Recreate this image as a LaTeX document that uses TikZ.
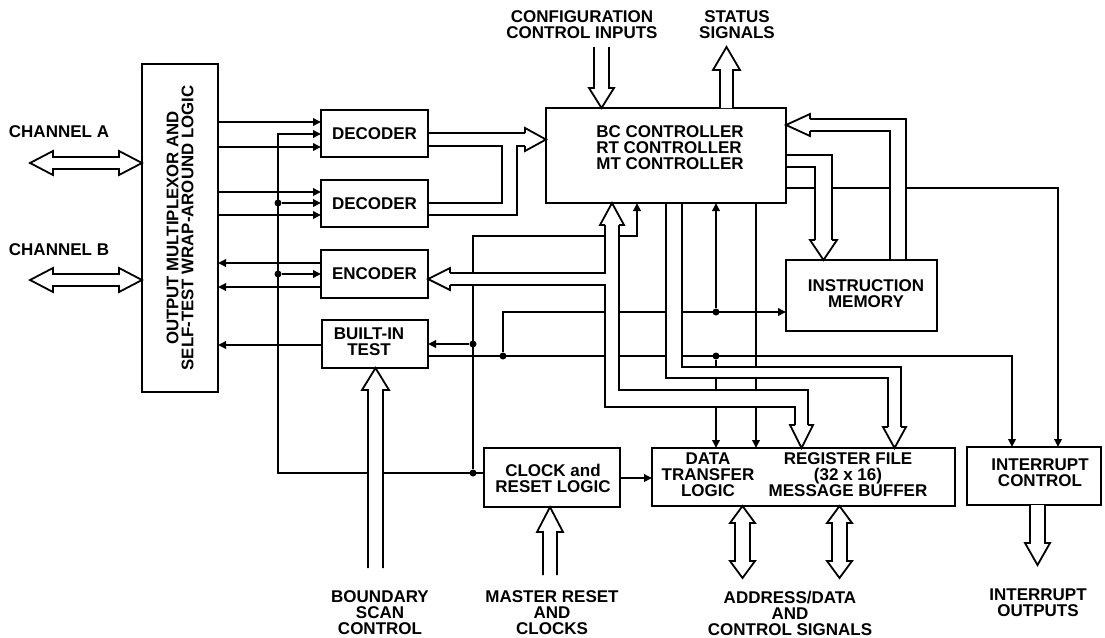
\documentclass[tikz,border=0pt]{standalone}
\usepackage{fontspec}
\setmainfont{Liberation Sans}
\usetikzlibrary{arrows.meta}
\begin{document}
\begin{tikzpicture}[x=1pt,y=-1pt, line width=1.8pt,
  box/.style={draw, line width=1.8pt, inner sep=0pt, outer sep=0pt, font=\fontsize{17}{16}\selectfont\bfseries, align=center},
  lbl/.style={font=\fontsize{17}{16}\selectfont\bfseries, align=center, inner sep=0pt},
  arr/.style={-{Triangle[length=8pt,width=7.5pt]}},
  dot/.style={circle, fill=black, inner sep=0pt, minimum size=7pt},
  hollow/.style={draw, fill=white, line width=1.8pt, line join=miter}]

\useasboundingbox (0,0) rectangle (1105,637);

% ---------- boxes ----------
\node[box, minimum width=76pt, minimum height=328pt] (mux) at (180,228) {};
\node[lbl, rotate=90, font=\fontsize{16.8}{15}\selectfont\bfseries] (muxt) at (180,228) {OUTPUT MULTIPLEXOR AND\\SELF-TEST WRAP-AROUND LOGIC};
\node[box, minimum width=107pt, minimum height=47pt] (dec1) at (374.5,133.5) {DECODER};
\node[box, minimum width=107pt, minimum height=47pt] (dec2) at (374.5,203.5) {DECODER};
\node[box, minimum width=107pt, minimum height=48pt] (enc) at (374.5,274) {ENCODER};
\node[box, minimum width=106pt, minimum height=48pt] (bit) at (375,344) {};
\node[lbl] (bitt) at (369,342) {BUILT-IN\\TEST};
\node[box, minimum width=240pt, minimum height=95pt] (ctrl) at (666,155.5) {};
\node[lbl, align=left] (ctrlt) at (670,147.5) {BC CONTROLLER\\RT CONTROLLER\\MT CONTROLLER};
\node[box, minimum width=151pt, minimum height=71pt] (imem) at (861.5,295.5) {};
\node[lbl] (imemt) at (866,294) {INSTRUCTION\\MEMORY};
\node[box, minimum width=136pt, minimum height=59pt] (clk) at (552,477.5) {};
\node[lbl] (clkt) at (553,478) {CLOCK and\\RESET LOGIC};
\node[box, minimum width=303pt, minimum height=58pt] (dtl) at (803.5,477) {};
\node[lbl] (dtlt) at (708,475) {DATA\\TRANSFER\\LOGIC};
\node[lbl] (regt) at (848,475) {REGISTER FILE\\(32 x 16)\\MESSAGE BUFFER};
\node[box, minimum width=134pt, minimum height=58pt] (intc) at (1034,476) {};
\node[lbl] (intct) at (1040,473) {INTERRUPT\\CONTROL};

% ---------- labels ----------
\node[lbl] (cha) at (59,132) {CHANNEL A};
\node[lbl] (chb) at (59,250) {CHANNEL B};
\node[lbl] (cfg) at (582,25) {CONFIGURATION\\CONTROL INPUTS};
\node[lbl] (sts) at (737,25) {STATUS\\SIGNALS};
\node[lbl] (bsc) at (380,613) {BOUNDARY\\SCAN\\CONTROL};
\node[lbl] (mrc) at (552,613) {MASTER RESET\\AND\\CLOCKS};
\node[lbl] (adr) at (790,613) {ADDRESS/DATA\\AND\\CONTROL SIGNALS};
\node[lbl] (iout) at (1038,603) {INTERRUPT\\OUTPUTS};

% ---------- thin signal lines ----------
\draw[arr] (mux.east |- 0,122) -- (dec1.west |- 0,122);
\draw[arr] (mux.east |- 0,147) -- (dec1.west |- 0,147);
\draw[arr] (mux.east |- 0,192) -- (dec2.west |- 0,192);
\draw[arr] (mux.east |- 0,215) -- (dec2.west |- 0,215);
\draw[arr] (enc.west |- 0,263) -- (mux.east |- 0,263);
\draw[arr] (enc.west |- 0,287) -- (mux.east |- 0,287);
\draw[arr] (bit.west |- 0,345) -- (mux.east |- 0,345);

\draw[arr] (clk.west |- 0,473) -- (278,473) -- (278,134) -- (dec1.west |- 0,134);
\node[dot] (d1) at (278,203) {};
\draw[arr] (d1) -- (dec2.west |- 0,203);
\node[dot] (d2) at (278,274) {};
\draw[arr] (d2) -- (enc.west |- 0,274);
\node[dot] (d3) at (473,473) {};
\draw[arr] (d3) -- (473,236) -- (637,236) -- (ctrl.south -| 637,0);
\node[dot] (d4) at (473,344) {};
\draw[arr] (d4) -- (bit.east |- 0,344);

\draw[arr] (bit.east |- 0,356) -- (1012,356) -- (intc.north -| 1012,0);
\node[dot] (d5) at (503,356) {};
\draw[arr] (d5) -- (503,312) -- (imem.west |- 0,312);
\node[dot] (d6) at (716,312) {};
\draw[arr] (d6) -- (ctrl.south -| 716,0);
\node[dot] (d7) at (716,356) {};
\draw[arr] (d7) -- (dtl.north -| 716,0);
\draw[arr] (ctrl.south -| 756,0) -- (dtl.north -| 756,0);
\draw[arr] (ctrl.east |- 0,188) -- (1058,188) -- (intc.north -| 1058,0);
\draw[arr] (clk.east |- 0,478) -- (dtl.west |- 0,478);

% ---------- bus A: decoders -> controller ----------
\draw (dec1.east |- 0,133) -- (525,133);
\draw (dec1.east |- 0,146) -- (502,146) -- (502,203) -- (dec2.east |- 0,203);
\draw (dec2.east |- 0,215) -- (517,215) -- (517,146) -- (525,146);
\draw[hollow] (525,133) -- (525,128) -- (ctrl.west |- 0,139.5) -- (525,151) -- (525,146);

% ---------- bus B: instruction memory -> controller ----------
\fill[white] (810,119) -- (906,119) -- (906,259) -- (890,259) -- (890,131) -- (810,131) -- cycle;
\draw (810,119) -- (906,119) -- (imem.north -| 906,0);
\draw (810,131) -- (890,131) -- (imem.north -| 890,0);
\draw[hollow] (810,119) -- (810,114) -- (ctrl.east |- 0,125) -- (810,136) -- (810,131);

% ---------- bus C: controller -> instruction memory ----------
\fill[white] (787,155) -- (832,155) -- (832,240) -- (815,240) -- (815,167) -- (787,167) -- cycle;
\draw (ctrl.east |- 0,155) -- (832,155) -- (832,240);
\draw (ctrl.east |- 0,167) -- (815,167) -- (815,240);
\draw[hollow] (815,240) -- (810,240) -- (imem.north -| 823.5,0) -- (837,240) -- (832,240);

% ---------- bus D: encoder / controller / register file ----------
\fill[white] (450,273) -- (605,273) -- (605,225) -- (619,225) -- (619,390) -- (808,390) -- (808,425) -- (795,425) -- (795,407) -- (605,407) -- (605,285) -- (450,285) -- cycle;
\draw (450,273) -- (605,273) -- (605,225);
\draw (450,285) -- (605,285) -- (605,407) -- (795,407) -- (795,425);
\draw (619,225) -- (619,390) -- (808,390) -- (808,425);
\draw[hollow] (605,225) -- (600,225) -- (ctrl.south -| 612,0) -- (624,225) -- (619,225);
\draw[hollow] (450,273) -- (450,268) -- (enc.east |- 0,279) -- (450,290) -- (450,285);
\draw[hollow] (795,425) -- (790,425) -- (dtl.north -| 801.5,0) -- (813,425) -- (808,425);

% ---------- bus E: controller -> register file ----------
\fill[white] (666,204) -- (666,378) -- (888,378) -- (888,427) -- (901,427) -- (901,367) -- (682,367) -- (682,204) -- cycle;
\draw (ctrl.south -| 666,0) -- (666,378) -- (888,378) -- (888,427);
\draw (ctrl.south -| 682,0) -- (682,367) -- (901,367) -- (901,427);
\draw[hollow] (888,427) -- (883,427) -- (dtl.north -| 894.5,0) -- (906,427) -- (901,427);

% ---------- external hollow arrows ----------
\draw[hollow] (594,47) -- (594,88) -- (589,88) -- (ctrl.north -| 601.5,0) -- (614,88) -- (609,88) -- (609,47);
\draw[hollow] (ctrl.north -| 720,0) -- (720,70) -- (713,70) -- (726.5,47) -- (740,70) -- (733,70) -- (ctrl.north -| 733,0);
\draw[hollow] (368,568) -- (368,390) -- (362,390) -- (bit.south -| 375.5,0) -- (389,390) -- (383,390) -- (383,568);
\draw[hollow] (543,575) -- (543,532) -- (537,532) -- (clk.south -| 550,0) -- (563,532) -- (557,532) -- (557,575);
\draw[hollow] (intc.south -| 1030,0) -- (1030,543) -- (1025,543) -- (1037.5,565) -- (1050,543) -- (1045,543) -- (intc.south -| 1045,0);

\draw[hollow] (dtl.south -| 742.5,0) -- (755,523) -- (750,523) -- (750,561) -- (755,561) -- (742.5,578) -- (730,561) -- (735,561) -- (735,523) -- (730,523) -- cycle;
\draw[hollow] (dtl.south -| 839.5,0) -- (852,523) -- (847,523) -- (847,561) -- (852,561) -- (839.5,578) -- (827,561) -- (832,561) -- (832,523) -- (827,523) -- cycle;

\draw[hollow] (30,163) -- (53,151) -- (53,157) -- (119,157) -- (119,151) -- (mux.west |- 0,163) -- (119,175) -- (119,169) -- (53,169) -- (53,175) -- cycle;
\draw[hollow] (30,280) -- (53,268) -- (53,274) -- (119,274) -- (119,268) -- (mux.west |- 0,280) -- (119,292) -- (119,286) -- (53,286) -- (53,292) -- cycle;

\end{tikzpicture}
\end{document}
